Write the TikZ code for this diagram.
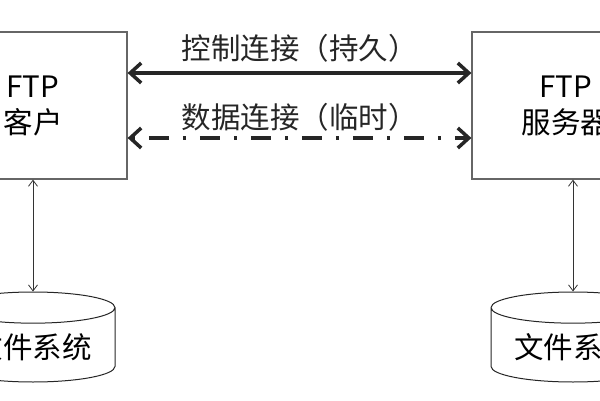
\documentclass[tikz,border=0pt]{standalone}
\usepackage{fontspec}
\setmainfont{Noto Sans CJK SC}
\usepackage{tikz}
\usetikzlibrary{arrows.meta, shapes.geometric, positioning}

\tikzset{
    khoi/.style={draw=black!60, line width=1.2pt, minimum width=188pt, minimum height=147pt,
        align=center, font=\fontsize{29.5}{36}\selectfont},
    odia/.style={cylinder, shape border rotate=90, draw=black!85, line width=1pt, anchor=shape center,
        minimum width=164pt, minimum height=90pt, aspect=0.25, font=\fontsize{29.5}{32}\selectfont},
    nhan/.style={font=\fontsize{29.5}{32}\selectfont, inner sep=0pt},
    muiday/.tip={Straight Barb[length=11pt, width=20pt]},
    muimanh/.tip={Straight Barb[length=6pt, width=9pt]}
}

\begin{document}
\begin{tikzpicture}[x=1pt, y=1pt]
    \useasboundingbox (0,0) rectangle (600,400);
    \clip (0,0) rectangle (600,400);

    % 1. Hai khối FTP
    \node[khoi] (khach) at (33,294.5) {FTP\\客户};
    \node[khoi] (may) at (566,294.5) {FTP\\服务器};

    % 2. Hai ổ đĩa
    \node[odia] (fs1) at (33,63) {文件系统};
    \node[odia] (fs2) at (573,63) {文件系统};

    % 3. Kết nối điều khiển và dữ liệu
    \draw[muiday-muiday, line width=3.5pt, black!85] ([yshift=32.5pt]khach.east) -- node[nhan, yshift=25pt] {控制连接（持久）} ([yshift=32.5pt]may.west);
    \draw[muiday-muiday, line width=3.5pt, black!85, dash pattern=on 3pt off 14pt on 20pt off 14pt] ([yshift=-32.5pt]khach.east) -- node[nhan, yshift=21pt] {数据连接（临时）} ([yshift=-32.5pt]may.west);

    % 4. Mũi tên xuống ổ đĩa
    \draw[muimanh-muimanh, line width=0.8pt, black!80] (khach.south) -- (fs1.north);
    \draw[muimanh-muimanh, line width=0.8pt, black!80] (may.south -| fs2.north) -- (fs2.north);

\end{tikzpicture}
\end{document}
